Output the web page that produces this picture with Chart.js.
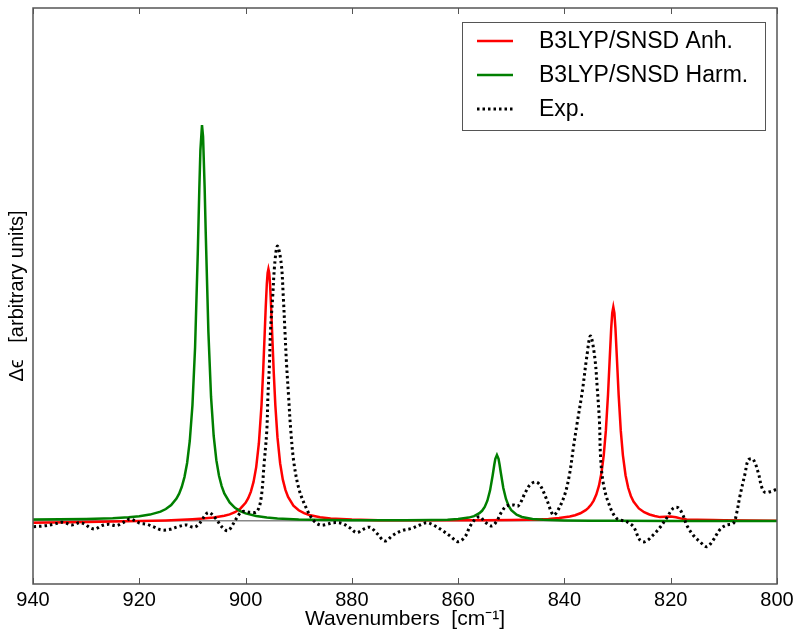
<!DOCTYPE html>
<html>
<head>
<meta charset="utf-8">
<script src="https://cdn.jsdelivr.net/npm/chart.js@4.4.1/dist/chart.umd.min.js"></script>
<style>
  html, body { margin: 0; padding: 0; background: #fff; }
</style>
</head>
<body>
<canvas id="spectrum" width="800" height="642"></canvas>
<script>
// tick labels on the wavenumber axis
const xTicks = [940, 920, 900, 880, 860, 840, 820, 800];
const seriesNames = ["B3LYP/SNSD Anh.", "B3LYP/SNSD Harm.", "Exp."];

// B3LYP/SNSD anharmonic
const anhX = [940, 930, 920, 915, 912, 910, 908, 906, 904, 903, 902, 901, 900, 899.5, 899, 898.5, 898, 897.5, 897, 896.7, 896.4, 896.2, 896, 895.85, 895.7, 895.55, 895.4, 895.2, 895, 894.7, 894.4, 894, 893.5, 893, 892.5, 892, 891, 890, 889, 888, 886, 884, 880, 875, 870, 865, 860,
  855, 850, 847, 845, 843, 841, 839, 838, 837, 836, 835.5, 835, 834.5, 834, 833.5, 833, 832.6, 832.2, 831.8, 831.5, 831.2, 831, 830.8, 830.6, 830.4, 830.1, 829.8, 829.4, 829, 828.5, 828, 827.5, 827, 826, 825, 824, 823, 822, 821, 820, 819, 818, 817, 815, 812, 810, 805, 800];
const anhY = [-0.018, -0.01, -0.001, 0.006, 0.012, 0.018, 0.024, 0.034, 0.052, 0.066, 0.088, 0.123, 0.182, 0.229, 0.294, 0.391, 0.539, 0.775, 1.159, 1.487, 1.88, 2.147, 2.372, 2.481, 2.52, 2.481, 2.372, 2.147, 1.88, 1.487, 1.159, 0.838, 0.578, 0.416, 0.311, 0.24, 0.154, 0.107, 0.078, 0.06, 0.038, 0.026, 0.015, 0.008, 0.0075, 0.0064, 0.0064,
  0.0074, 0.0099, 0.0127, 0.016, 0.021, 0.029, 0.045, 0.058, 0.077, 0.108, 0.131, 0.162, 0.204, 0.264, 0.353, 0.491, 0.659, 0.906, 1.263, 1.597, 1.926, 2.082, 2.14, 2.082, 1.926, 1.597, 1.263, 0.906, 0.659, 0.458, 0.332, 0.25, 0.194, 0.126, 0.088, 0.065, 0.05, 0.039, 0.042, 0.046, 0.037, 0.024, 0.016, 0.012, 0.009, 0.007, 0.005, 0.003];

// B3LYP/SNSD harmonic
const harmX = [940, 935, 930, 925, 922, 920, 918, 916, 915, 914, 913, 912.5, 912, 911.5, 911, 910.5, 910, 909.5, 909, 908.7, 908.5, 908.2, 908, 907.7, 907.5, 907, 906.5, 906, 905.5, 905, 904.5, 904, 903, 902, 901, 900, 898, 896, 894, 890, 885, 880, 870,
  865, 862, 860, 858, 857, 856, 855.5, 855, 854.5, 854, 853.5, 853.2, 853, 852.7, 852.4, 852.2, 852, 851.5, 851, 850.5, 850, 849, 848, 846, 844, 840, 835, 830, 820, 810, 800];
const harmY = [0.015, 0.017, 0.021, 0.028, 0.037, 0.047, 0.064, 0.094, 0.12, 0.16, 0.225, 0.274, 0.342, 0.439, 0.58, 0.8, 1.155, 1.738, 2.668, 3.33, 3.707, 3.96, 3.843, 3.33, 2.889, 1.896, 1.243, 0.85, 0.608, 0.453, 0.349, 0.276, 0.185, 0.132, 0.099, 0.076, 0.05, 0.035, 0.026, 0.016, 0.01, 0.007, 0.007,
  0.009, 0.013, 0.019, 0.034, 0.049, 0.078, 0.102, 0.141, 0.203, 0.304, 0.457, 0.562, 0.621, 0.66, 0.621, 0.562, 0.493, 0.33, 0.22, 0.151, 0.109, 0.063, 0.04, 0.021, 0.012, 0.006, 0.003, 0.002, 0.001, 0.0005, 0.0];

// experiment
const expX = [939.9, 938.1, 936.2, 934.6, 933.7, 932.7, 931.2, 930.2, 929.3, 928.3, 927.1, 925.8, 924.3, 923.3, 922.4, 921.8, 920.8, 919.9, 918.6, 917.4, 915.8, 914.2, 912.7, 911.1, 909.8, 908.9, 908.3, 907.3, 906.7, 905.4, 904.5, 903.3, 901.7, 900.7, 899.2, 897.9, 897.1, 896.5, 896.0, 895.8, 895.5, 895.3, 894.9, 894.5, 894.0, 893.3, 892.9, 892.6, 892.3, 891.9, 891.5, 890.9, 889.9, 888.5, 887.3, 886.0, 884.7, 883.5, 881.9, 880.4, 879.1, 877.9, 876.6, 875.3, 873.8, 872.2, 870.6, 868.7, 867.2, 865.9, 864.7, 863.1, 861.5, 860.0, 858.7, 857.8, 856.8, 855.9, 855.0, 853.7, 852.8, 851.8, 850.9, 849.6, 848.7, 847.4, 846.5, 845.5, 844.6, 843.3, 842.1, 841.2, 839.9, 839.0, 838.3, 837.6, 836.6, 835.8, 835.1, 834.3, 833.8, 833.4, 833.2, 832.7, 831.7, 830.2, 828.3, 827.0, 825.8, 824.8, 823.3, 822.0, 820.8, 819.5, 818.6, 817.7, 817.0, 815.8, 814.5, 813.2, 812.0, 810.7, 809.5, 808.2, 807.6, 807.0, 806.0, 805.4, 804.5, 803.5, 802.9, 802.3, 801.3, 800.4, 800.0];
const expY = [-0.057, -0.05, -0.033, -0.013, -0.023, -0.04, -0.017, -0.033, -0.067, -0.08, -0.047, -0.033, -0.047, -0.023, 0.003, 0.02, 0.003, -0.023, -0.033, -0.057, -0.09, -0.083, -0.057, -0.04, -0.063, -0.04, 0.003, 0.077, 0.083, 0.01, -0.057, -0.097, 0.027, 0.093, 0.087, 0.093, 0.22, 0.58, 0.91, 1.24, 1.58, 1.91, 2.24, 2.58, 2.75, 2.58, 2.24, 1.91, 1.58, 1.24, 0.91, 0.58, 0.31, 0.12, 0.01, -0.04, -0.033, -0.017, -0.023, -0.067, -0.117, -0.083, -0.063, -0.123, -0.2, -0.14, -0.097, -0.073, -0.04, -0.017, -0.04, -0.09, -0.15, -0.207, -0.157, -0.057, 0.017, 0.043, -0.007, -0.05, -0.007, 0.093, 0.15, 0.16, 0.15, 0.28, 0.36, 0.39, 0.36, 0.21, 0.06, 0.11, 0.27, 0.48, 0.74, 0.98, 1.31, 1.64, 1.85, 1.64, 1.31, 0.98, 0.64, 0.38, 0.18, 0.027, -0.007, -0.057, -0.19, -0.207, -0.14, -0.063, 0.027, 0.13, 0.133, 0.06, -0.04, -0.14, -0.207, -0.257, -0.19, -0.083, -0.04, -0.023, 0.077, 0.243, 0.477, 0.61, 0.617, 0.477, 0.343, 0.287, 0.293, 0.31, 0.32];

const font = "'Liberation Sans', Arial, sans-serif";
const frameColor = "#555555";

const toPoints = (xs, ys) => xs.map((x, i) => ({ x: x, y: ys[i] }));

// box round the plot plus the small inward ticks (matplotlib look)
const frame = {
  id: "frame",
  afterDatasetsDraw(chart) {
    const { ctx, chartArea } = chart;
    const { left, right, top, bottom } = chartArea;
    const xScale = chart.scales.x;
    ctx.save();
    ctx.strokeStyle = frameColor;
    ctx.lineWidth = 1.5;
    ctx.strokeRect(left, top, right - left, bottom - top);
    ctx.beginPath();
    xTicks.forEach((v) => {
      const px = Math.round(xScale.getPixelForValue(v)) + 0.5;
      ctx.moveTo(px, bottom);
      ctx.lineTo(px, bottom - 6);
      ctx.moveTo(px, top);
      ctx.lineTo(px, top + 6);
    });
    ctx.lineWidth = 1;
    ctx.stroke();
    ctx.restore();
  },
};

// legend box inside the top right corner
const legendBox = {
  id: "legendBox",
  afterDraw(chart) {
    const { ctx, chartArea } = chart;
    const boxX = chartArea.right - 315;
    const boxY = chartArea.top + 14;
    const boxW = 303;
    const boxH = 108;
    ctx.save();
    ctx.fillStyle = "#fff";
    ctx.fillRect(boxX, boxY, boxW, boxH);
    ctx.strokeStyle = frameColor;
    ctx.lineWidth = 1;
    ctx.strokeRect(boxX + 0.5, boxY + 0.5, boxW, boxH);
    chart.data.datasets.forEach((ds, i) => {
      const y = boxY + 19 + i * 34;
      ctx.beginPath();
      ctx.strokeStyle = ds.borderColor;
      ctx.lineWidth = ds.borderWidth;
      ctx.setLineDash(ds.borderDash || []);
      ctx.moveTo(boxX + 15, y);
      ctx.lineTo(boxX + 51, y);
      ctx.stroke();
      ctx.setLineDash([]);
      ctx.fillStyle = "#000";
      ctx.font = "23px " + font;
      ctx.textBaseline = "middle";
      ctx.fillText(ds.label, boxX + 77, y + 1);
    });
    ctx.restore();
  },
};

const context = document.getElementById("spectrum").getContext("2d");

new Chart(context, {
  type: "line",
  data: {
    datasets: [
      {
        label: seriesNames[0],
        data: toPoints(anhX, anhY),
        borderColor: "#ff0000",
        borderWidth: 2.5,
        order: 2,
      },
      {
        label: seriesNames[1],
        data: toPoints(harmX, harmY),
        borderColor: "#007f00",
        borderWidth: 2.5,
        order: 1,
      },
      {
        label: seriesNames[2],
        data: toPoints(expX, expY),
        borderColor: "#000000",
        borderWidth: 3,
        borderDash: [2.5, 3],
        tension: 0.35,
        order: 0,
      },
    ],
  },
  options: {
    responsive: false,
    animation: false,
    events: [],
    elements: {
      point: { radius: 0 },
      line: { tension: 0, fill: false, borderCapStyle: "butt" },
    },
    layout: { padding: { left: 0, right: 23, top: 8, bottom: 0 } },
    plugins: {
      legend: { display: false },
      tooltip: { enabled: false },
    },
    scales: {
      x: {
        type: "linear",
        reverse: true,
        min: 800,
        max: 940,
        afterBuildTicks: (scale) => {
          scale.ticks = xTicks.map((v) => ({ value: v }));
        },
        afterFit: (scale) => {
          scale.height = 58;
        },
        ticks: {
          color: "#000",
          font: { family: font, size: 20 },
          padding: 4,
          maxRotation: 0,
          autoSkip: false,
        },
        grid: { drawOnChartArea: false, drawTicks: false },
        border: { display: false },
        title: {
          display: true,
          text: "Wavenumbers  [cm⁻¹]",
          color: "#000",
          font: { family: font, size: 21 },
          padding: { top: 0, bottom: 10 },
        },
      },
      y: {
        min: -0.63,
        max: 5.13,
        afterBuildTicks: (scale) => {
          scale.ticks = [{ value: 0 }];
        },
        afterFit: (scale) => {
          scale.width = 33;
        },
        ticks: { display: false },
        grid: {
          color: "#888888",
          lineWidth: 1.5,
          drawTicks: false,
        },
        border: { display: false },
        title: {
          display: true,
          text: "Δϵ   [arbitrary units]",
          color: "#000",
          font: { family: font, size: 20 },
          padding: { top: 5, bottom: 0 },
        },
      },
    },
  },
  plugins: [frame, legendBox],
});
</script>
</body>
</html>
